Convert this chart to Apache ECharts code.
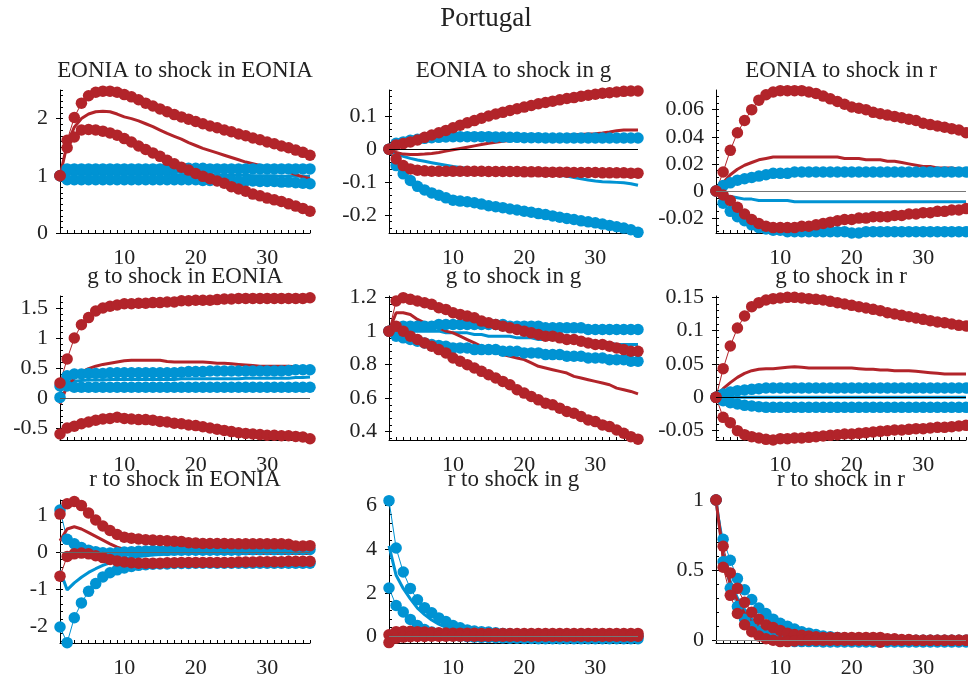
<!DOCTYPE html>
<html><head><meta charset="utf-8">
<script src="https://cdn.jsdelivr.net/npm/echarts@6/dist/echarts.min.js"></script>
<style>html,body{margin:0;padding:0;background:#fff}#c{width:968px;height:684px}</style>
</head><body><div id="c"></div>
<script>
const MAIN_TITLE = 'Portugal';
const HORIZON = [1,2,3,4,5,6,7,8,9,10,11,12,13,14,15,16,17,18,19,20,21,22,23,24,25,26,27,28,29,30,31,32,33,34,35,36];
const X_TICK_LABELS = [10,20,30];
const PANEL_TITLES = ['EONIA to shock in EONIA','EONIA to shock in g','EONIA to shock in r',
  'g to shock in EONIA','g to shock in g','g to shock in r',
  'r to shock in EONIA','r to shock in g','r to shock in r'];

// EONIA to shock in EONIA
const EE_redU = [1.00,1.62,2.02,2.27,2.40,2.46,2.48,2.48,2.46,2.42,2.38,2.33,2.27,2.22,2.17,2.12,2.07,2.03,1.99,1.95,1.91,1.87,1.84,1.80,1.77,1.73,1.70,1.66,1.63,1.59,1.56,1.52,1.49,1.45,1.41,1.36];
const EE_redM = [1.00,1.55,1.85,2.00,2.08,2.12,2.13,2.12,2.08,2.03,2.00,1.96,1.91,1.86,1.80,1.74,1.69,1.64,1.58,1.53,1.48,1.44,1.40,1.36,1.32,1.28,1.24,1.21,1.18,1.15,1.12,1.09,1.06,1.02,0.98,0.95];
const EE_redL = [1.00,1.49,1.68,1.80,1.81,1.80,1.78,1.75,1.71,1.65,1.59,1.52,1.46,1.40,1.34,1.27,1.21,1.15,1.10,1.04,0.99,0.95,0.91,0.87,0.81,0.77,0.73,0.68,0.65,0.61,0.58,0.55,0.51,0.47,0.43,0.38];
const EE_blueU = [1.00,1.12,1.12,1.12,1.12,1.12,1.12,1.12,1.12,1.12,1.12,1.12,1.12,1.12,1.12,1.12,1.12,1.13,1.13,1.13,1.13,1.12,1.12,1.12,1.12,1.12,1.12,1.12,1.12,1.12,1.12,1.12,1.12,1.12,1.12,1.12];
const EE_blueM = [1.00,1.03,1.03,1.03,1.03,1.03,1.03,1.03,1.03,1.03,1.03,1.03,1.03,1.03,1.03,1.03,1.02,1.02,1.02,1.02,1.02,1.02,1.02,1.01,1.01,1.01,1.01,1.00,1.00,1.00,1.00,0.99,0.99,0.99,0.99,0.99];
const EE_blueL = [1.00,0.93,0.93,0.93,0.93,0.93,0.93,0.93,0.93,0.93,0.93,0.93,0.93,0.93,0.93,0.93,0.93,0.93,0.93,0.93,0.92,0.92,0.92,0.92,0.92,0.91,0.91,0.91,0.90,0.90,0.90,0.89,0.89,0.88,0.87,0.86];
const EE_ticks = [0,1,2];

// EONIA to shock in g
const EG_redU = [0,0.013,0.017,0.022,0.028,0.036,0.043,0.050,0.057,0.065,0.073,0.080,0.087,0.094,0.101,0.107,0.112,0.118,0.123,0.128,0.133,0.138,0.142,0.146,0.150,0.154,0.157,0.161,0.164,0.167,0.170,0.172,0.174,0.176,0.177,0.177];
const EG_redM = [0,-0.010,-0.015,-0.016,-0.016,-0.015,-0.013,-0.010,-0.006,-0.002,0.002,0.006,0.010,0.014,0.018,0.021,0.024,0.026,0.028,0.030,0.032,0.034,0.036,0.038,0.040,0.042,0.044,0.045,0.046,0.047,0.049,0.052,0.056,0.058,0.058,0.058];
const EG_redL = [0,-0.030,-0.050,-0.060,-0.064,-0.066,-0.067,-0.067,-0.067,-0.067,-0.067,-0.067,-0.067,-0.067,-0.068,-0.068,-0.068,-0.068,-0.068,-0.069,-0.069,-0.069,-0.070,-0.070,-0.070,-0.070,-0.071,-0.071,-0.071,-0.071,-0.072,-0.072,-0.072,-0.072,-0.073,-0.073];
const EG_blueU = [0,0.018,0.022,0.027,0.030,0.033,0.035,0.036,0.037,0.038,0.038,0.038,0.038,0.038,0.038,0.037,0.037,0.036,0.036,0.035,0.035,0.035,0.034,0.034,0.034,0.034,0.034,0.034,0.034,0.034,0.034,0.034,0.034,0.034,0.034,0.034];
const EG_blueM = [0,-0.015,-0.022,-0.028,-0.033,-0.037,-0.041,-0.045,-0.049,-0.053,-0.056,-0.058,-0.060,-0.062,-0.064,-0.066,-0.068,-0.070,-0.072,-0.074,-0.075,-0.076,-0.077,-0.078,-0.080,-0.082,-0.086,-0.090,-0.094,-0.097,-0.099,-0.100,-0.101,-0.102,-0.105,-0.110];
const EG_blueL = [0,-0.050,-0.075,-0.095,-0.113,-0.124,-0.133,-0.140,-0.148,-0.155,-0.158,-0.160,-0.163,-0.167,-0.172,-0.175,-0.178,-0.182,-0.185,-0.189,-0.192,-0.196,-0.199,-0.203,-0.207,-0.211,-0.214,-0.218,-0.221,-0.224,-0.228,-0.232,-0.236,-0.240,-0.245,-0.253];
const EG_ticks = [-0.2,-0.1,0,0.1];

// EONIA to shock in r
const ER_redU = [0,0.014,0.030,0.043,0.052,0.060,0.067,0.071,0.073,0.074,0.074,0.074,0.074,0.073,0.072,0.070,0.068,0.066,0.064,0.062,0.061,0.060,0.058,0.057,0.056,0.055,0.054,0.053,0.052,0.050,0.049,0.048,0.047,0.046,0.045,0.043];
const ER_redM = [0,0.006,0.012,0.016,0.019,0.021,0.023,0.024,0.025,0.025,0.025,0.025,0.025,0.025,0.025,0.025,0.025,0.025,0.024,0.024,0.024,0.023,0.023,0.023,0.022,0.022,0.021,0.020,0.019,0.018,0.018,0.017,0.017,0.017,0.016,0.016];
const ER_redL = [0,-0.003,-0.007,-0.012,-0.017,-0.021,-0.024,-0.026,-0.027,-0.027,-0.027,-0.027,-0.026,-0.026,-0.025,-0.024,-0.023,-0.022,-0.021,-0.021,-0.020,-0.020,-0.019,-0.019,-0.019,-0.018,-0.018,-0.017,-0.017,-0.016,-0.016,-0.015,-0.015,-0.014,-0.014,-0.013];
const ER_blueU = [0,0.004,0.006,0.008,0.009,0.010,0.011,0.012,0.013,0.013,0.013,0.014,0.014,0.014,0.014,0.014,0.014,0.014,0.014,0.014,0.014,0.014,0.014,0.014,0.014,0.014,0.014,0.014,0.014,0.014,0.014,0.014,0.014,0.014,0.014,0.014];
const ER_blueM = [0,-0.003,-0.004,-0.005,-0.006,-0.006,-0.007,-0.007,-0.007,-0.007,-0.007,-0.008,-0.008,-0.008,-0.008,-0.008,-0.008,-0.008,-0.008,-0.008,-0.008,-0.008,-0.008,-0.008,-0.008,-0.008,-0.008,-0.008,-0.008,-0.008,-0.008,-0.008,-0.008,-0.008,-0.008,-0.008];
const ER_blueL = [0,-0.009,-0.015,-0.019,-0.022,-0.025,-0.027,-0.028,-0.029,-0.029,-0.030,-0.030,-0.030,-0.030,-0.030,-0.030,-0.030,-0.030,-0.030,-0.031,-0.031,-0.030,-0.030,-0.030,-0.030,-0.030,-0.030,-0.030,-0.030,-0.030,-0.030,-0.030,-0.030,-0.030,-0.030,-0.030];
const ER_ticks = [-0.02,0,0.02,0.04,0.06];

// g to shock in EONIA
const GE_redU = [0.25,0.65,1.00,1.22,1.34,1.45,1.50,1.53,1.55,1.57,1.57,1.58,1.58,1.59,1.59,1.60,1.60,1.62,1.62,1.63,1.63,1.63,1.64,1.65,1.65,1.66,1.66,1.66,1.66,1.66,1.66,1.66,1.66,1.66,1.66,1.67];
const GE_redM = [-0.10,0.20,0.33,0.43,0.49,0.53,0.56,0.58,0.60,0.62,0.63,0.63,0.63,0.63,0.63,0.61,0.60,0.60,0.60,0.60,0.60,0.59,0.58,0.58,0.57,0.56,0.55,0.54,0.53,0.53,0.53,0.53,0.53,0.52,0.50,0.48];
const GE_redL = [-0.60,-0.50,-0.47,-0.43,-0.40,-0.37,-0.35,-0.34,-0.32,-0.34,-0.35,-0.36,-0.36,-0.37,-0.39,-0.40,-0.42,-0.43,-0.45,-0.46,-0.48,-0.50,-0.52,-0.54,-0.56,-0.58,-0.59,-0.60,-0.61,-0.62,-0.62,-0.63,-0.63,-0.64,-0.65,-0.68];
const GE_blueU = [0.20,0.37,0.40,0.40,0.41,0.41,0.41,0.42,0.42,0.42,0.42,0.42,0.42,0.42,0.42,0.42,0.42,0.43,0.44,0.44,0.44,0.45,0.45,0.45,0.45,0.45,0.45,0.45,0.45,0.45,0.45,0.45,0.46,0.47,0.47,0.47];
const GE_blueM = [0.10,0.26,0.28,0.29,0.30,0.30,0.30,0.31,0.31,0.31,0.31,0.31,0.31,0.31,0.31,0.31,0.31,0.32,0.32,0.32,0.32,0.32,0.32,0.32,0.32,0.32,0.33,0.33,0.33,0.33,0.33,0.33,0.33,0.34,0.34,0.35];
const GE_blueL = [0.01,0.20,0.18,0.18,0.18,0.18,0.18,0.18,0.18,0.18,0.18,0.18,0.18,0.18,0.18,0.18,0.18,0.18,0.18,0.18,0.18,0.18,0.18,0.18,0.18,0.18,0.18,0.18,0.18,0.18,0.18,0.18,0.18,0.18,0.18,0.18];
const GE_ticks = [-0.5,0,0.5,1,1.5];

// g to shock in g
const GG_redU = [1.00,1.18,1.20,1.19,1.18,1.17,1.16,1.14,1.13,1.11,1.10,1.09,1.08,1.06,1.05,1.04,1.03,1.02,1.01,1.00,0.99,0.98,0.97,0.97,0.96,0.95,0.95,0.94,0.93,0.92,0.92,0.91,0.90,0.89,0.88,0.88];
const GG_redM = [1.00,1.11,1.11,1.10,1.07,1.05,1.03,1.02,1.00,0.99,0.97,0.95,0.93,0.91,0.90,0.88,0.86,0.85,0.84,0.83,0.81,0.79,0.78,0.77,0.76,0.75,0.73,0.72,0.71,0.70,0.69,0.68,0.66,0.65,0.64,0.625];
const GG_redL = [1.00,1.03,1.00,0.97,0.95,0.93,0.91,0.89,0.87,0.84,0.82,0.80,0.78,0.76,0.74,0.72,0.70,0.68,0.65,0.63,0.61,0.59,0.57,0.56,0.54,0.52,0.51,0.49,0.47,0.46,0.44,0.43,0.41,0.39,0.37,0.355];
const GG_blueU = [1.00,1.02,1.03,1.03,1.03,1.03,1.03,1.04,1.04,1.04,1.04,1.04,1.04,1.04,1.04,1.04,1.04,1.03,1.03,1.03,1.03,1.03,1.02,1.02,1.02,1.02,1.02,1.02,1.01,1.01,1.01,1.01,1.01,1.01,1.01,1.01];
const GG_blueM = [1.00,1.00,1.00,1.00,1.00,1.00,1.00,1.00,0.99,0.99,0.99,0.99,0.98,0.98,0.97,0.97,0.97,0.97,0.96,0.96,0.96,0.95,0.95,0.95,0.95,0.94,0.94,0.94,0.94,0.93,0.93,0.93,0.92,0.92,0.92,0.92];
const GG_blueL = [1.00,0.97,0.96,0.95,0.94,0.93,0.92,0.915,0.91,0.90,0.90,0.90,0.89,0.89,0.89,0.89,0.88,0.88,0.88,0.87,0.87,0.87,0.86,0.86,0.86,0.85,0.85,0.85,0.84,0.84,0.84,0.83,0.83,0.83,0.82,0.82];
const GG_ticks = [0.4,0.6,0.8,1,1.2];

// g to shock in r
const GR_redU = [0,0.043,0.077,0.104,0.122,0.136,0.142,0.146,0.148,0.149,0.150,0.150,0.149,0.148,0.147,0.146,0.144,0.142,0.140,0.138,0.136,0.134,0.132,0.130,0.127,0.125,0.123,0.121,0.119,0.117,0.115,0.113,0.112,0.110,0.108,0.107];
const GR_redM = [0,0.013,0.022,0.030,0.036,0.040,0.042,0.043,0.043,0.044,0.045,0.046,0.045,0.044,0.044,0.044,0.044,0.044,0.044,0.044,0.043,0.042,0.042,0.041,0.041,0.040,0.040,0.040,0.039,0.038,0.037,0.036,0.035,0.035,0.035,0.035];
const GR_redL = [0,-0.030,-0.038,-0.050,-0.056,-0.059,-0.061,-0.063,-0.064,-0.062,-0.062,-0.061,-0.061,-0.060,-0.059,-0.058,-0.057,-0.056,-0.055,-0.055,-0.054,-0.053,-0.052,-0.051,-0.050,-0.049,-0.049,-0.048,-0.047,-0.047,-0.046,-0.045,-0.045,-0.044,-0.043,-0.042];
const GR_blueU = [0,0.005,0.008,0.010,0.011,0.012,0.013,0.014,0.014,0.014,0.014,0.014,0.014,0.014,0.014,0.014,0.014,0.014,0.014,0.014,0.014,0.014,0.014,0.014,0.014,0.014,0.014,0.014,0.014,0.014,0.014,0.014,0.014,0.014,0.014,0.014];
const GR_blueM = [0,0,0,0,0,0,0,0,0,0,0,0,0,0,0,0,0,0,0,0,0,0,0,0,0,0,0,0,0,0,0,0,0,0,0,0];
const GR_blueL = [0,-0.005,-0.008,-0.010,-0.012,-0.013,-0.014,-0.015,-0.015,-0.015,-0.015,-0.015,-0.015,-0.015,-0.015,-0.015,-0.015,-0.015,-0.015,-0.015,-0.015,-0.015,-0.015,-0.015,-0.015,-0.015,-0.015,-0.015,-0.015,-0.015,-0.015,-0.015,-0.015,-0.015,-0.015,-0.015];
const GR_ticks = [-0.05,0,0.05,0.1,0.15];

// r to shock in EONIA
const RE_redU = [1.02,1.30,1.36,1.25,1.05,0.86,0.70,0.58,0.47,0.40,0.37,0.35,0.33,0.32,0.31,0.30,0.29,0.28,0.25,0.24,0.23,0.23,0.23,0.23,0.22,0.22,0.22,0.22,0.22,0.22,0.22,0.22,0.21,0.16,0.16,0.17];
const RE_redM = [0.30,0.62,0.68,0.62,0.52,0.42,0.32,0.22,0.13,0.07,0.03,0.00,-0.02,-0.03,-0.04,-0.04,-0.04,-0.04,-0.04,-0.04,-0.04,-0.04,-0.04,-0.04,-0.04,-0.04,-0.04,-0.04,-0.04,-0.04,-0.04,-0.04,-0.04,-0.04,-0.04,-0.04];
const RE_redL = [-0.65,-0.12,-0.05,-0.03,-0.05,-0.10,-0.15,-0.20,-0.24,-0.27,-0.29,-0.30,-0.30,-0.30,-0.30,-0.29,-0.29,-0.28,-0.28,-0.28,-0.28,-0.28,-0.28,-0.28,-0.28,-0.27,-0.27,-0.27,-0.26,-0.26,-0.26,-0.26,-0.25,-0.25,-0.25,-0.25];
const RE_blueU = [1.13,0.34,0.22,0.12,0.05,0.01,-0.02,-0.03,-0.02,0.00,0.01,0.02,0.03,0.04,0.04,0.04,0.05,0.05,0.05,0.05,0.05,0.05,0.05,0.05,0.05,0.05,0.06,0.06,0.06,0.06,0.06,0.06,0.06,0.07,0.07,0.07];
const RE_blueM = [-0.50,-1.02,-0.83,-0.68,-0.55,-0.45,-0.36,-0.29,-0.23,-0.18,-0.15,-0.12,-0.10,-0.08,-0.07,-0.06,-0.05,-0.05,-0.04,-0.04,-0.04,-0.04,-0.04,-0.03,-0.03,-0.03,-0.03,-0.03,-0.03,-0.03,-0.03,-0.02,-0.02,-0.02,-0.02,-0.02];
const RE_blueL = [-2.02,-2.44,-1.77,-1.37,-1.06,-0.85,-0.67,-0.56,-0.48,-0.43,-0.39,-0.36,-0.34,-0.33,-0.32,-0.32,-0.31,-0.31,-0.31,-0.30,-0.30,-0.30,-0.30,-0.30,-0.30,-0.30,-0.30,-0.30,-0.30,-0.30,-0.30,-0.30,-0.30,-0.30,-0.30,-0.30];
const RE_ticks = [-2,-1,0,1];

// r to shock in g
const RG_redU = [0.08,0.22,0.24,0.24,0.22,0.20,0.18,0.17,0.16,0.15,0.15,0.15,0.15,0.14,0.14,0.14,0.14,0.14,0.14,0.14,0.14,0.14,0.14,0.14,0.14,0.14,0.14,0.14,0.14,0.14,0.14,0.14,0.14,0.14,0.14,0.14];
const RG_redM = [0.00,0.08,0.10,0.10,0.09,0.08,0.07,0.07,0.06,0.06,0.06,0.06,0.05,0.05,0.05,0.05,0.05,0.05,0.05,0.05,0.05,0.05,0.05,0.05,0.05,0.05,0.05,0.05,0.05,0.05,0.05,0.05,0.05,0.05,0.05,0.05];
const RG_redL = [-0.28,-0.08,-0.03,-0.01,0.00,0.00,0.01,0.01,0.01,0.01,0.01,0.01,0.01,0.01,0.01,0.01,0.01,0.01,0.01,0.01,0.01,0.01,0.01,0.01,0.01,0.01,0.01,0.01,0.01,0.01,0.01,0.01,0.01,0.01,0.01,0.01];
const RG_blueU = [6.22,4.05,2.95,2.20,1.68,1.32,1.08,0.85,0.68,0.50,0.40,0.30,0.25,0.22,0.20,0.17,0.14,0.12,0.10,0.08,0.07,0.06,0.05,0.05,0.04,0.04,0.04,0.03,0.03,0.03,0.03,0.03,0.03,0.03,0.03,0.03];
const RG_blueM = [4.15,2.80,2.20,1.72,1.30,1.00,0.75,0.56,0.42,0.31,0.24,0.18,0.13,0.10,0.08,0.06,0.05,0.04,0.03,0.02,0.01,0.01,0.00,0.00,0.00,0.00,0.00,0.00,0.00,0.00,0.00,0.00,0.00,0.00,0.00,0.00];
const RG_blueL = [2.22,1.42,1.12,0.78,0.50,0.32,0.20,0.12,0.06,0.03,0.01,-0.01,-0.03,-0.04,-0.05,-0.06,-0.07,-0.08,-0.08,-0.09,-0.09,-0.10,-0.10,-0.10,-0.10,-0.10,-0.10,-0.10,-0.10,-0.10,-0.10,-0.10,-0.10,-0.10,-0.10,-0.10];
const RG_ticks = [0,2,4,6];

// r to shock in r
const RR_redU = [1.00,0.67,0.48,0.37,0.27,0.20,0.15,0.11,0.09,0.07,0.05,0.04,0.035,0.03,0.025,0.02,0.02,0.02,0.02,0.02,0.02,0.02,0.02,0.02,0.01,0.01,0.005,0.005,0,0,0,0,0,0,0,0];
const RR_redM = [1.00,0.60,0.40,0.28,0.19,0.13,0.09,0.06,0.04,0.025,0.015,0.01,0.005,0,0,0,0,0,0,0,0,0,0,0,0,0,0,0,0,0,0,0,0,0,0,0];
const RR_redL = [1.00,0.52,0.32,0.19,0.11,0.06,0.03,0.01,0.00,-0.01,-0.01,-0.005,0,0,0,0,0,0,0,0,0,0,0,-0.015,0,0,0,0,0,0,0,0,0,0,0,0];
const RR_blueU = [1.00,0.72,0.57,0.44,0.36,0.29,0.23,0.19,0.15,0.12,0.10,0.08,0.06,0.05,0.04,0.03,0.025,0.02,0.015,0.01,0.01,0.005,0.005,0,0,0,0,0,0,0,0,0,0,0,0,0];
const RR_blueM = [1.00,0.62,0.42,0.30,0.22,0.15,0.10,0.07,0.045,0.03,0.02,0.01,0.005,0,0,0,0,0,0,0,0,0,0,0,0,0,0,0,0,0,0,0,0,0,0,0];
const RR_blueL = [1.00,0.56,0.37,0.24,0.15,0.10,0.06,0.03,0.01,0.00,-0.005,-0.01,-0.01,-0.01,-0.01,-0.012,-0.012,-0.012,-0.012,-0.012,-0.012,-0.012,-0.012,-0.012,-0.012,-0.012,-0.012,-0.012,-0.012,-0.012,-0.012,-0.012,-0.012,-0.012,-0.012,-0.012];
const RR_ticks = [0,0.5,1];

const RED = '#B2242A', BLUE = '#0093D3';
const FONT = 'Liberation Serif';

const PANELS = [
  {red:[EE_redU,EE_redM,EE_redL], blue:[EE_blueU,EE_blueM,EE_blueL], ticks:EE_ticks, min:0, max:2.5, minor:0.1, zero:null},
  {red:[EG_redU,EG_redM,EG_redL], blue:[EG_blueU,EG_blueM,EG_blueL], ticks:EG_ticks, min:-0.255, max:0.18, minor:0.02, zero:'#000'},
  {red:[ER_redU,ER_redM,ER_redL], blue:[ER_blueU,ER_blueM,ER_blueL], ticks:ER_ticks, min:-0.031, max:0.0745, minor:0.005, zero:'#777'},
  {red:[GE_redU,GE_redM,GE_redL], blue:[GE_blueU,GE_blueM,GE_blueL], ticks:GE_ticks, min:-0.7, max:1.7, minor:0.1, zero:'#555'},
  {red:[GG_redU,GG_redM,GG_redL], blue:[GG_blueU,GG_blueM,GG_blueL], ticks:GG_ticks, min:0.35, max:1.21, minor:0.04, zero:null},
  {red:[GR_redU,GR_redM,GR_redL], blue:[GR_blueU,GR_blueM,GR_blueL], ticks:GR_ticks, min:-0.064, max:0.152, minor:0.01, zero:'#000'},
  {red:[RE_redU,RE_redM,RE_redL], blue:[RE_blueU,RE_blueM,RE_blueL], ticks:RE_ticks, min:-2.45, max:1.4, minor:0.2, zero:'#666'},
  {red:[RG_redU,RG_redM,RG_redL], blue:[RG_blueU,RG_blueM,RG_blueL], ticks:RG_ticks, min:-0.3, max:6.25, minor:0.4, zero:'#777'},
  {red:[RR_redU,RR_redM,RR_redL], blue:[RR_blueU,RR_blueM,RR_blueL], ticks:RR_ticks, min:-0.02, max:1.0, minor:0.1, zero:'#888'}
];

const COL_LEFT = [60, 389, 716], COL_W = [250, 249, 250];
const ROW_TOP = [90, 296, 500], ROW_H = [143, 144, 143];
const TITLE_TOP = [59, 265, 468];

const grids = [], xAxes = [], yAxes = [], series = [], titles = [];
titles.push({text: MAIN_TITLE, left: 486, top: 5, textAlign: 'center', padding: 0,
  textStyle: {fontFamily: FONT, fontSize: 27, fontWeight: 'normal', color: '#222'}});

const pairs = arr => HORIZON.map((x, i) => [x, arr[i]]);

PANELS.forEach((p, k) => {
  const r = Math.floor(k / 3), c = k % 3;
  grids.push({left: COL_LEFT[c], top: ROW_TOP[r], width: COL_W[c], height: ROW_H[r], containLabel: false});
  titles.push({text: PANEL_TITLES[k], left: COL_LEFT[c] + COL_W[c] / 2, top: TITLE_TOP[r], textAlign: 'center', padding: 0,
    textStyle: {fontFamily: FONT, fontSize: 23, fontWeight: 'normal', color: '#222'}});
  xAxes.push({type: 'value', gridIndex: k, min: 1, max: 36,
    axisLine: {show: true, onZero: false, lineStyle: {color: '#000', width: 1}},
    axisTick: {show: true, inside: true, length: 3, customValues: HORIZON, lineStyle: {color: '#000'}},
    axisLabel: {show: true, customValues: X_TICK_LABELS, margin: 14, fontFamily: FONT, fontSize: 22, color: '#222'},
    splitLine: {show: false}});
  const minorVals = [];
  for (let v = Math.ceil(p.min / p.minor - 1e-9) * p.minor; v <= p.max + 1e-9; v += p.minor) minorVals.push(Math.round(v * 1e6) / 1e6);
  yAxes.push({type: 'value', gridIndex: k, min: p.min, max: p.max, position: 'left',
    axisLine: {show: true, onZero: false, lineStyle: {color: '#000', width: 1}},
    axisTick: {show: true, inside: false, length: 4, customValues: p.ticks, lineStyle: {color: '#000'}},
    axisLabel: {show: true, customValues: p.ticks, margin: 12, fontFamily: FONT, fontSize: 22, color: '#222',
      formatter: v => String(v)},
    splitLine: {show: false}});
  yAxes.push({type: 'value', gridIndex: k, min: p.min, max: p.max, position: 'left',
    axisLine: {show: false},
    axisTick: {show: true, inside: true, length: 3, customValues: minorVals, lineStyle: {color: '#000'}},
    axisLabel: {show: false}, splitLine: {show: false}});
  const yi = 2 * k;
  const band = (arr, color) => ({type: 'line', xAxisIndex: k, yAxisIndex: yi, data: pairs(arr),
    symbol: 'circle', symbolSize: 11.5, showSymbol: true, clip: false, silent: true, animation: false,
    lineStyle: {color, width: 1}, itemStyle: {color}});
  const med = (arr, color) => ({type: 'line', xAxisIndex: k, yAxisIndex: yi, data: pairs(arr),
    symbol: 'none', clip: false, silent: true, animation: false, lineStyle: {color, width: 3}});
  series.push(band(p.blue[0], BLUE), band(p.blue[2], BLUE), med(p.blue[1], BLUE));
  const ru = band(p.red[0], RED);
  if (p.zero) ru.markLine = {silent: true, symbol: 'none', label: {show: false}, animation: false,
    lineStyle: {color: p.zero, width: 1, type: 'solid'}, data: [{yAxis: 0}]};
  series.push(ru, band(p.red[2], RED), med(p.red[1], RED));
});

const chart = echarts.init(document.getElementById('c'), null, {renderer: 'canvas'});
chart.setOption({backgroundColor: '#fff', animation: false, title: titles, grid: grids, xAxis: xAxes, yAxis: yAxes, series});
</script></body></html>
